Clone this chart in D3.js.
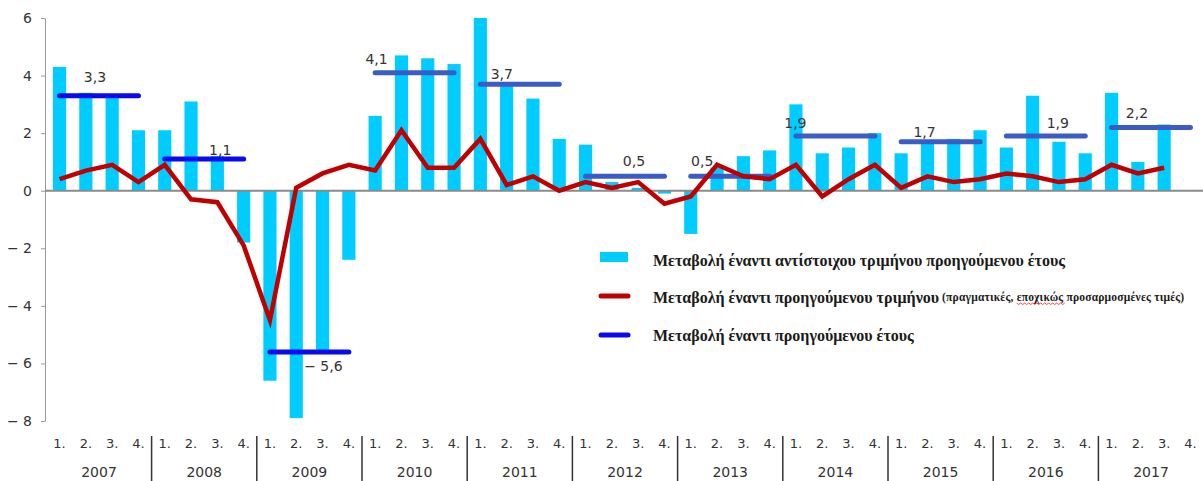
<!DOCTYPE html>
<html>
<head>
<meta charset="utf-8">
<script src="https://cdn.jsdelivr.net/npm/d3@7"></script>
<style>
  body { margin: 0; background: #fff; }
  svg { display: block; }
  .tick text, .qlab, .ylab, .annot { font-family: "DejaVu Sans", sans-serif; fill: #333; }
  .legend text { font-family: "Liberation Serif", serif; font-weight: bold; fill: #1a1a1a; }
</style>
</head>
<body>
<div id="chart"></div>
<script>
// Data
const years = [2007, 2008, 2009, 2010, 2011, 2012, 2013, 2014, 2015, 2016, 2017];
const quarterLabels = ["1.", "2.", "3.", "4."];

// change vs same quarter of previous year (bars), 2017 Q4 missing
const yoyQuarter = [4.3, 3.4, 3.3, 2.1,   2.1, 3.1, 1.2, -1.8,   -6.6, -7.9, -5.6, -2.4,
                    2.6, 4.7, 4.6, 4.4,   6.0, 3.7, 3.2, 1.8,    1.6, 0.3, 0.1, -0.1,
                    -1.5, 0.8, 1.2, 1.4,  3.0, 1.3, 1.5, 2.0,    1.3, 1.7, 1.8, 2.1,
                    1.5, 3.3, 1.7, 1.3,   3.4, 1.0, 2.3, null];

// change vs previous quarter (red line)
const qoqQuarter = [0.4, 0.7, 0.9, 0.3,   0.9, -0.3, -0.4, -1.9,  -4.5, 0.1, 0.6, 0.9,
                    0.7, 2.1, 0.8, 0.8,   1.8, 0.2, 0.5, 0.0,     0.3, 0.1, 0.3, -0.45,
                    -0.2, 0.9, 0.5, 0.4,  0.9, -0.2, 0.4, 0.9,    0.1, 0.5, 0.3, 0.4,
                    0.6, 0.5, 0.3, 0.4,   0.9, 0.6, 0.8, null];

// change vs previous year (blue lines)
const annualChange = [3.3, 1.1, -5.6, 4.1, 3.7, 0.5, 0.5, 1.9, 1.7, 1.9, 2.2];
const annualText = ["3,3", "1,1", "\u2212 5,6", "4,1", "3,7", "0,5", "0,5", "1,9", "1,7", "1,9", "2,2"];
const yTicks = [-8, -6, -4, -2, 0, 2, 4, 6];

const legendLabels = ["Μεταβολή έναντι αντίστοιχου τριμήνου προηγούμενου έτους",
                      "Μεταβολή έναντι προηγούμενου τριμήνου",
                      "Μεταβολή έναντι προηγούμενου έτους"];
const legendNote = ["(πραγματικές, ", "εποχικώς", " προσαρμοσμένες τιμές)"];

// nudges for the annual value labels (px from the middle of each blue line)
const annotShift = [[-4, -19], [16, -9], [14, 14], [-38, -14], [-18, -10], [9, -15],
                    [-28, -15], [-40, -13], [-16, -10], [12, -13], [-14, -14]];

const width = 1203, height = 481;
const plotLeft = 46.4, plotRight = 1203.6, plotTop = 18, plotBottom = 421;

const svg = d3.select("#chart").append("svg")
    .attr("width", width)
    .attr("height", height);

const quarterIdx = d3.range(years.length * 4);

const x = d3.scaleBand()
    .domain(quarterIdx)
    .range([plotLeft, plotRight])
    .paddingInner(0.5)
    .paddingOuter(0.25);
const xc = i => x(i) + x.bandwidth() / 2;

const y = d3.scaleLinear()
    .domain([-8, 6])
    .range([plotBottom, plotTop]);

// y axis
const yAxis = d3.axisLeft(y)
    .tickValues(yTicks)
    .tickSize(4)
    .tickSizeOuter(0)
    .tickPadding(9)
    .tickFormat(d => d < 0 ? "\u2212 " + (-d) : d);

const yG = svg.append("g")
    .attr("transform", `translate(45,0)`)
    .call(yAxis);
yG.select(".domain").attr("stroke", "#999");
yG.selectAll(".tick line").attr("stroke", "#999");
yG.selectAll(".tick text").style("font-size", "14px");

// bars
svg.append("g").selectAll("rect")
    .data(quarterIdx.filter(i => yoyQuarter[i] !== null))
    .enter()
    .append("rect")
    .attr("x", i => x(i))
    .attr("width", x.bandwidth())
    .attr("y", i => y(Math.max(0, yoyQuarter[i])))
    .attr("height", i => Math.abs(y(yoyQuarter[i]) - y(0)))
    .attr("fill", "#00ccff");

// zero line
svg.append("line")
    .attr("x1", 45).attr("x2", width)
    .attr("y1", y(0)).attr("y2", y(0))
    .attr("stroke", "#8a8a8a")
    .attr("stroke-width", 2);

// annual lines
const annualG = svg.append("g");
annualG.selectAll("line")
    .data(years)
    .enter()
    .append("line")
    .attr("x1", (d, i) => xc(i * 4))
    .attr("x2", (d, i) => xc(i * 4 + 3))
    .attr("y1", (d, i) => y(annualChange[i]))
    .attr("y2", (d, i) => y(annualChange[i]))
    .attr("stroke", (d, i) => i < 3 ? "#0a0aee" : "#3b5cc6")
    .attr("stroke-width", 5)
    .attr("stroke-linecap", "round");

annualG.selectAll("text")
    .data(years)
    .enter()
    .append("text")
    .attr("class", "annot")
    .attr("x", (d, i) => (xc(i * 4) + xc(i * 4 + 3)) / 2 + annotShift[i][0])
    .attr("y", (d, i) => y(annualChange[i]) + annotShift[i][1])
    .attr("text-anchor", "middle")
    .attr("dominant-baseline", "central")
    .style("font-size", "14px")
    .text((d, i) => annualText[i]);

// quarter-on-quarter line
const line = d3.line()
    .defined(i => qoqQuarter[i] !== null)
    .x(i => xc(i))
    .y(i => y(qoqQuarter[i]));

svg.append("path")
    .datum(quarterIdx)
    .attr("d", line)
    .attr("fill", "none")
    .attr("stroke", "#c00000")
    .attr("stroke-width", 4.5)
    .attr("stroke-linejoin", "miter");

// x axis: quarters, years, separators
svg.append("g").selectAll("text")
    .data(quarterIdx)
    .enter()
    .append("text")
    .attr("class", "qlab")
    .attr("x", i => xc(i))
    .attr("y", 443)
    .attr("text-anchor", "middle")
    .attr("dominant-baseline", "central")
    .style("font-size", "13px")
    .text(i => quarterLabels[i % 4]);

svg.append("g").selectAll("text")
    .data(years)
    .enter()
    .append("text")
    .attr("class", "ylab")
    .attr("x", (d, i) => (xc(i * 4) + xc(i * 4 + 3)) / 2)
    .attr("y", 472)
    .attr("text-anchor", "middle")
    .attr("dominant-baseline", "central")
    .style("font-size", "14px")
    .text(d => d);

svg.append("g").selectAll("line")
    .data(years.slice(1))
    .enter()
    .append("line")
    .attr("x1", (d, i) => x((i + 1) * 4) - x.step() * 0.25)
    .attr("x2", (d, i) => x((i + 1) * 4) - x.step() * 0.25)
    .attr("y1", 436)
    .attr("y2", height)
    .attr("stroke", "#333")
    .attr("stroke-width", 1.5);

// legend
const legend = svg.append("g").attr("class", "legend");
legend.append("rect")
    .attr("x", 600).attr("y", 252)
    .attr("width", 28).attr("height", 10)
    .attr("fill", "#00ccff");
legend.append("line")
    .attr("x1", 601).attr("x2", 628)
    .attr("y1", 296).attr("y2", 296)
    .attr("stroke", "#c00000").attr("stroke-width", 5)
    .attr("stroke-linecap", "round");
legend.append("line")
    .attr("x1", 601).attr("x2", 628)
    .attr("y1", 335).attr("y2", 335)
    .attr("stroke", "#0a0aee").attr("stroke-width", 5)
    .attr("stroke-linecap", "round");

const legendY = [260, 297, 335];
legendLabels.forEach((lab, i) => {
    const t = legend.append("text")
        .attr("x", 653)
        .attr("y", legendY[i])
        .attr("dominant-baseline", "central")
        .style("font-size", "16px")
        .text(lab);
    if (i === 1) {
        const parts = legendNote.map((s, k) => t.append("tspan")
            .attr("dx", k === 0 ? 3 : 0)
            .style("font-size", "11.5px")
            .style("letter-spacing", "0.2px")
            .text(s));
        // spell-check squiggle under the middle word
        const w = parts[1].node();
        const n = legendNote[1].length;
        const x0 = w.getStartPositionOfChar(0).x;
        const x1 = w.getEndPositionOfChar(n - 1).x;
        const yb = legendY[i] + 6;
        let d = `M${x0},${yb}`;
        for (let xx = x0, k = 0; xx < x1; xx += 2, k++) {
            d += ` L${xx + 2},${yb + (k % 2 ? 0 : 1.5)}`;
        }
        legend.append("path")
            .attr("d", d)
            .attr("fill", "none")
            .attr("stroke", "#e02020")
            .attr("stroke-width", 0.8);
    }
});
</script>
</body>
</html>
